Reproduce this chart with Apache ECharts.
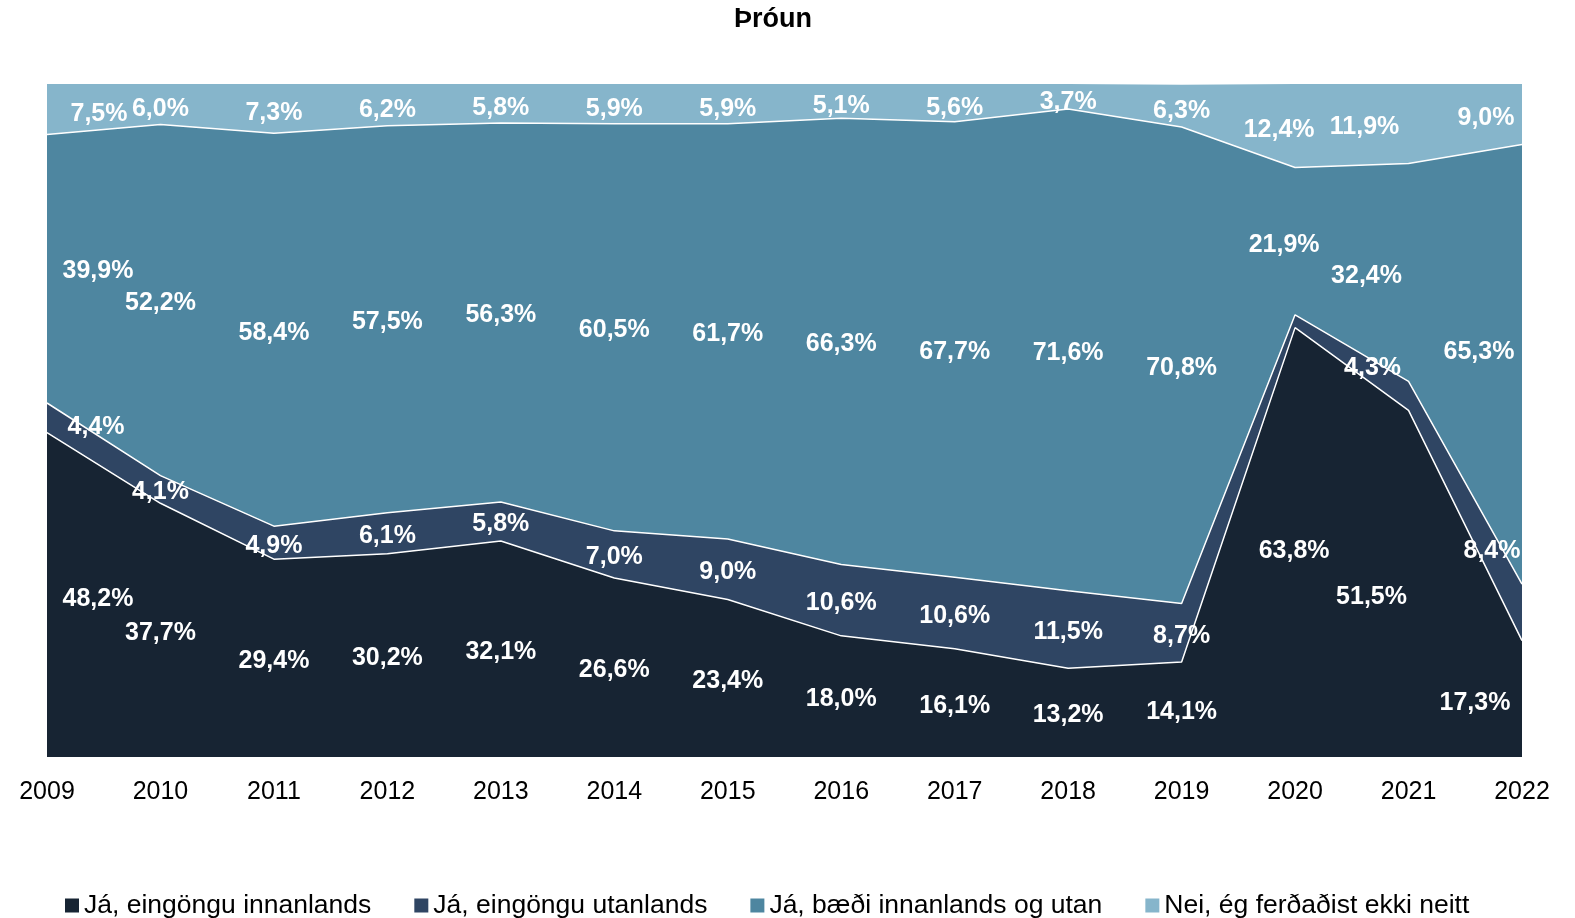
<!DOCTYPE html>
<html>
<head>
<meta charset="utf-8">
<title>Þróun</title>
<script src="https://cdn.jsdelivr.net/npm/echarts@6/dist/echarts.min.js"></script>
<style>
  html, body { margin: 0; padding: 0; background: #fff; }
  #chart { width: 1575px; height: 918px; }
</style>
</head>
<body>
<div id="chart"></div>
<script>
var years = ['2009', '2010', '2011', '2012', '2013', '2014', '2015', '2016', '2017', '2018', '2019', '2020', '2021', '2022'];

var innanlands = [48.2, 37.7, 29.4, 30.2, 32.1, 26.6, 23.4, 18.0, 16.1, 13.2, 14.1, 63.8, 51.5, 17.3];
var utanlands  = [4.4, 4.1, 4.9, 6.1, 5.8, 7.0, 9.0, 10.6, 10.6, 11.5, 8.7, 1.9, 4.3, 8.4];
var baedi      = [39.9, 52.2, 58.4, 57.5, 56.3, 60.5, 61.7, 66.3, 67.7, 71.6, 70.8, 21.9, 32.4, 65.3];
var nei        = [7.5, 6.0, 7.3, 6.2, 5.8, 5.9, 5.9, 5.1, 5.6, 3.7, 6.3, 12.4, 11.9, 9.0];

var seriesNames = ['Já, eingöngu innanlands', 'Já, eingöngu utanlands', 'Já, bæði innanlands og utan', 'Nei, ég ferðaðist ekki neitt'];
var colors = ['#172433', '#2F4563', '#4E86A0', '#86B5CB'];

// labels that Excel had moved off the band middle, [dx, dy] in px
var labelNudge = [
  { 0: [51, 4], 11: [-1, 9], 12: [-37, 13], 13: [-47, 4] },
  { 0: [49, 9], 12: [-36, -28], 13: [-30, -61] },
  { 0: [51, 2], 11: [-11, 4], 12: [-42, 4], 13: [-43, -12] },
  { 0: [52, 5], 9: [0, 6], 11: [-16, 4], 12: [-44, 4], 13: [-36, 4] }
];
// 2020 "utanlands" had no label in the original
var hiddenLabels = [[], [11], [], []];

var values = [innanlands, utanlands, baedi, nei];

function fmt(v) {
  return v.toFixed(1).replace('.', ',') + '%';
}

var series = [];

values.forEach(function (arr, s) {
  series.push({
    name: seriesNames[s],
    type: 'line',
    stack: 'total',
    data: arr,
    symbol: 'none',
    color: colors[s],
    lineStyle: { color: '#fff', width: s === 3 ? 0 : 1.5 },
    areaStyle: { color: colors[s], opacity: 1 },
    silent: true
  });
});

// invisible helper lines at the middle of each band, carrying the data labels
values.forEach(function (arr, s) {
  var mids = arr.map(function (v, i) {
    var base = 0;
    for (var k = 0; k < s; k++) base += values[k][i];
    var nudge = labelNudge[s][i] || [0, s === 3 ? 5 : 3];
    return {
      value: base + v / 2,
      label: {
        show: hiddenLabels[s].indexOf(i) < 0,
        offset: nudge
      }
    };
  });
  series.push({
    name: 'lbl' + s,
    type: 'line',
    data: mids,
    symbol: 'circle',
    symbolSize: 1,
    showAllSymbol: true,
    itemStyle: { color: 'transparent' },
    lineStyle: { width: 0, opacity: 0 },
    silent: true,
    z: 5,
    label: {
      show: true,
      position: 'inside',
      color: '#fff',
      fontFamily: 'Liberation Sans, Arial, sans-serif',
      fontWeight: 'bold',
      fontSize: 25,
      formatter: function (p) {
        return fmt(values[s][p.dataIndex]);
      }
    }
  });
});

var myChart = echarts.init(document.getElementById('chart'));

var option = {
  animation: false,
  title: {
    text: 'Þróun',
    left: 734,
    top: 6,
    padding: 0,
    textStyle: {
      fontFamily: 'Liberation Sans, Arial, sans-serif',
      fontWeight: 'bold',
      fontSize: 27,
      color: '#000'
    }
  },
  legend: {
    data: seriesNames,
    left: 60,
    top: 887,
    itemGap: 43,
    itemWidth: 14,
    itemHeight: 14,
    icon: 'rect',
    textStyle: {
      fontFamily: 'Liberation Sans, Arial, sans-serif',
      fontSize: 26.5,
      color: '#000'
    }
  },
  grid: {
    left: 47,
    right: 53,
    top: 84,
    bottom: 161
  },
  xAxis: {
    type: 'category',
    boundaryGap: false,
    data: years,
    axisLine: { show: false },
    axisTick: { show: false },
    axisLabel: {
      margin: 23,
      color: '#000',
      fontFamily: 'Liberation Sans, Arial, sans-serif',
      fontSize: 25
    }
  },
  yAxis: {
    type: 'value',
    min: 0,
    max: 100,
    show: false,
    splitLine: { show: false }
  },
  series: series
};

// 绘制图表
myChart.setOption(option);
</script>
</body>
</html>
